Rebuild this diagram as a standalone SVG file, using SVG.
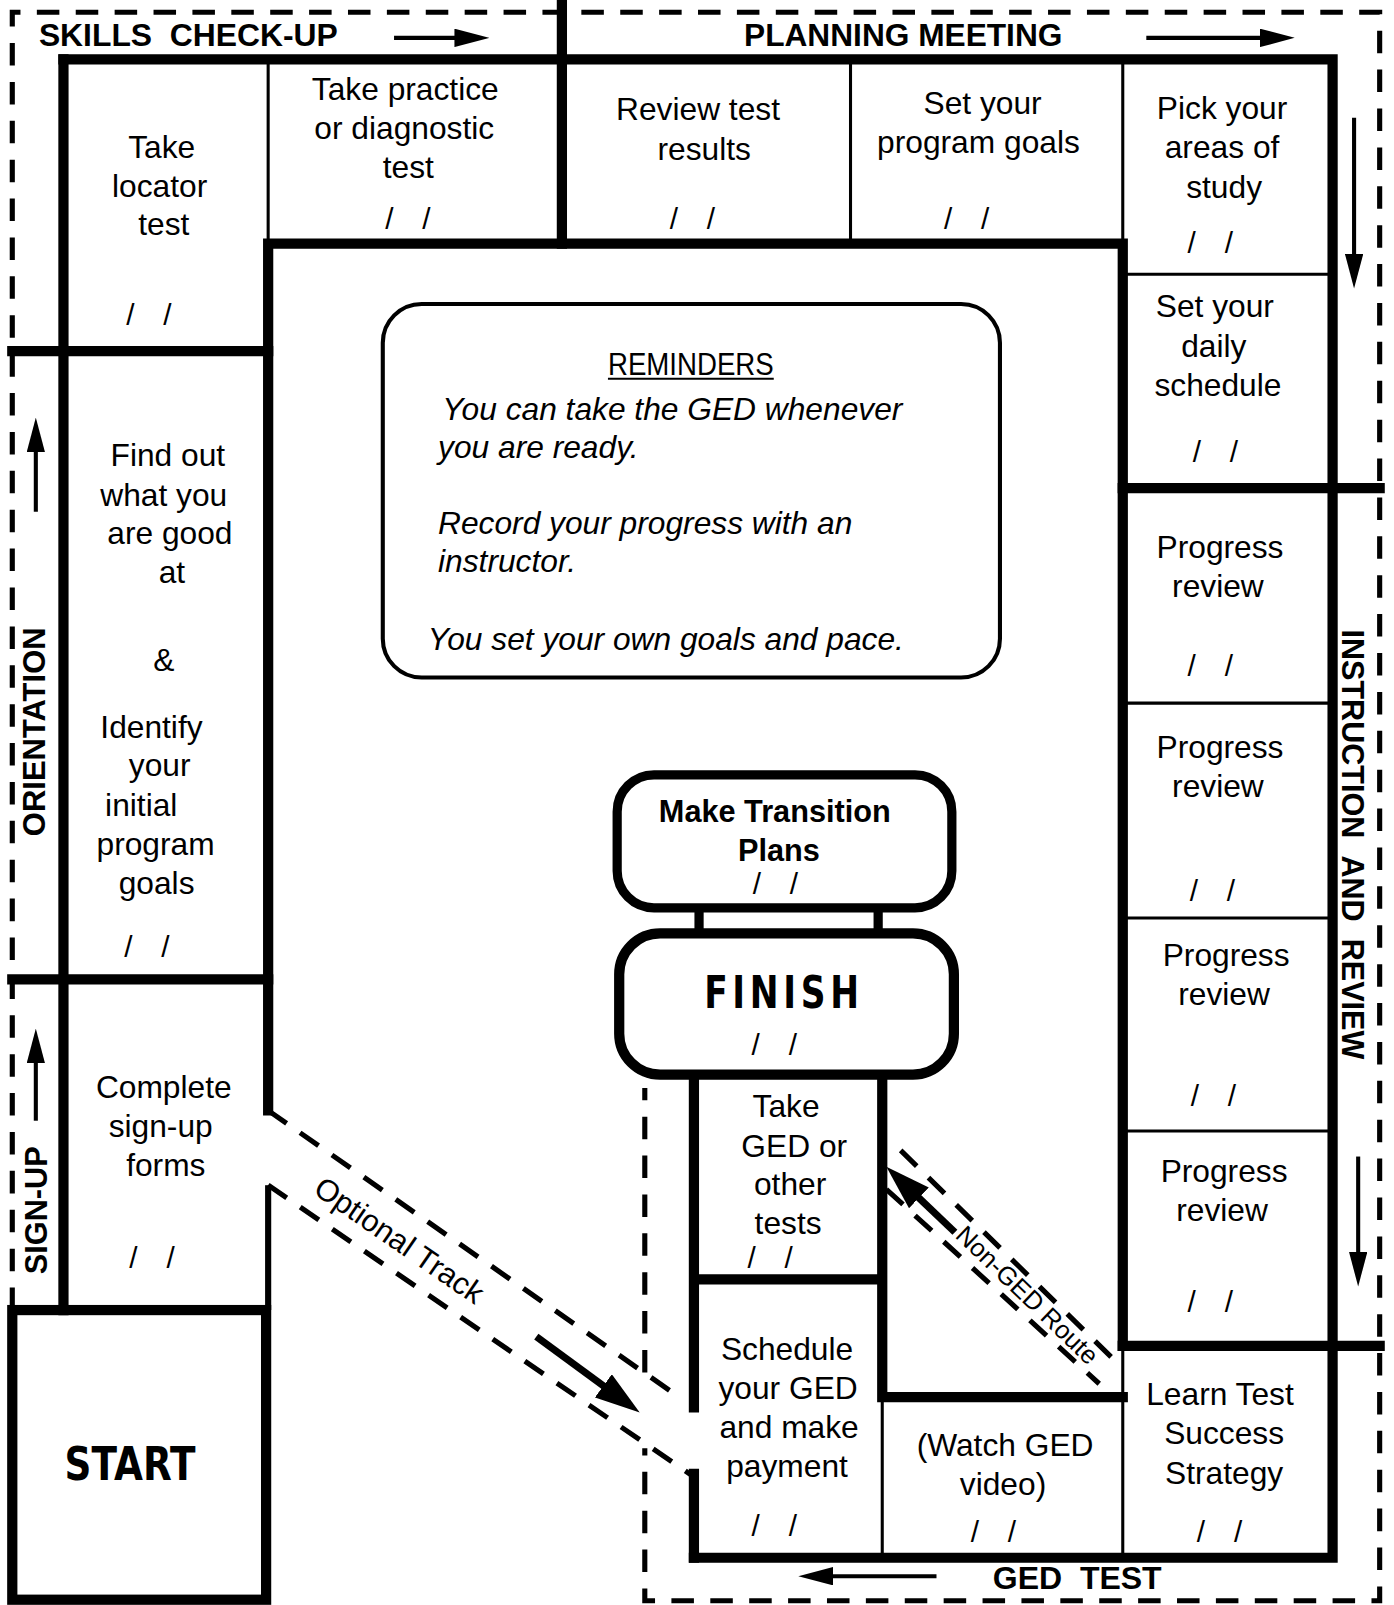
<svg xmlns="http://www.w3.org/2000/svg" width="1394" height="1605" viewBox="0 0 1394 1605">
<style>
.k{fill:none;stroke:#000;stroke-width:10;stroke-linecap:square}
.k6{fill:none;stroke:#000;stroke-width:6}
.n{fill:none;stroke:#000;stroke-width:3}
.ds{fill:none;stroke:#000;stroke-width:5;stroke-dasharray:22 16}
.ar{fill:none;stroke:#000;stroke-width:4}
.ab{fill:none;stroke:#000;stroke-width:7}
.bx{fill:#fff;stroke:#000}
text{font-family:"Liberation Sans",Arial,Helvetica,sans-serif;fill:#000}
.c{font-size:31px;text-anchor:middle}
.dt{font-size:29px;text-anchor:middle;letter-spacing:1px}
.sec{font-size:31px;font-weight:bold}
.rem{font-size:31px;font-style:italic}
.bd{font-weight:bold;text-anchor:middle}
.big{font-family:"DejaVu Sans","Liberation Sans",sans-serif;font-weight:bold;text-anchor:middle}
</style>
<defs>
<marker id="hs" markerUnits="userSpaceOnUse" markerWidth="34" markerHeight="18" viewBox="0 0 34 18" refX="8" refY="9" orient="auto"><path d="M0 0L34 9L0 18z" fill="#000"/></marker>
<marker id="hb" markerUnits="userSpaceOnUse" markerWidth="44" markerHeight="28" viewBox="0 0 44 28" refX="10" refY="14" orient="auto"><path d="M0 0L44 14L0 28z" fill="#000"/></marker>
</defs>
<rect width="1394" height="1605" fill="#fff"/>
<g transform="scale(1.02349)">

<g id="board">
<path class="ds" d="M12 1280V12H1348V1564H630V1415"/>
<path class="ds" d="M630 1341V1063"/>
<path class="k" d="M62 58H1302V1522H678"/>
<path class="k" d="M62 58V1280"/>
<path class="k" d="M549 5V238"/>
<path class="k" d="M262 1085V238H1097V1315"/>
<path class="k" d="M12 343H262M12 957H262"/>
<path class="k6" d="M262 1158V1280"/>
<rect class="k" x="12" y="1280" width="248" height="283"/>
<path class="k" d="M1097 477H1348M1097 1315H1348"/>
<path class="k" d="M678 1050V1375M678 1440V1522M862 1050V1365H1097M678 1250H862"/>
<path class="n" d="M262 58V238M831 58V238M1097 58V238M1097 268H1302M1097 687H1302M1097 897H1302M1097 1105H1302M1097 1315V1522M862 1365V1522"/>
</g>

<g id="connectors">
<path class="ds" d="M262 1085L665 1366"/>
<path class="ds" d="M262 1158L678 1443"/>
<path class="ds" d="M880 1124L1090 1330"/>
<path class="ds" d="M866 1162L1074 1352"/>
<path class="ab" d="M524 1306L597.6 1359.9" marker-end="url(#hb)"/>
<path class="ab" d="M933 1204L890.6 1163.5" marker-end="url(#hb)"/>
<path class="n" d="M683 887V912M858 887V912" style="stroke-width:9"/>
<text transform="translate(390,1212) rotate(34.6)" style="font-size:30px;text-anchor:middle" y="10">Optional Track</text>
<text transform="translate(1004,1265) rotate(44)" style="font-size:25px;text-anchor:middle" y="9">Non-GED Route</text>
</g>

<g id="labels">
<text class="sec" x="38" y="45" textLength="292" lengthAdjust="spacingAndGlyphs">SKILLS&#160;&#160;CHECK-UP</text>
<path class="ar" d="M385 37H452" marker-end="url(#hs)"/>
<text class="sec" x="727" y="45" textLength="311" lengthAdjust="spacingAndGlyphs">PLANNING MEETING</text>
<path class="ar" d="M1120 37H1239" marker-end="url(#hs)"/>
<path class="ar" d="M1323 115V256" marker-end="url(#hs)"/>
<text class="sec" transform="translate(1311,615) rotate(90)" textLength="420" lengthAdjust="spacingAndGlyphs">INSTRUCTION&#160;&#160;AND&#160;&#160;REVIEW</text>
<path class="ar" d="M1327 1130V1231" marker-end="url(#hs)"/>
<text class="sec" x="970" y="1553" textLength="165" lengthAdjust="spacingAndGlyphs">GED&#160;&#160;TEST</text>
<path class="ar" d="M915 1540H806" marker-end="url(#hs)"/>
<text class="sec" transform="translate(44,817) rotate(-90)" textLength="204" lengthAdjust="spacingAndGlyphs">ORIENTATION</text>
<path class="ar" d="M35 500V434" marker-end="url(#hs)"/>
<text class="sec" transform="translate(46,1245) rotate(-90)" textLength="125" lengthAdjust="spacingAndGlyphs">SIGN-UP</text>
<path class="ar" d="M35 1095V1031" marker-end="url(#hs)"/>
</g>

<g id="n-locator">
<text class="c"><tspan x="158" y="154">Take</tspan><tspan x="156" y="192">locator</tspan><tspan x="160" y="230">test</tspan></text>
<text class="dt" x="146" y="318">/&#160;&#160;&#160;/</text>
</g>
<g id="n-practice">
<text class="c"><tspan x="396" y="98">Take practice</tspan><tspan x="395" y="136">or diagnostic</tspan><tspan x="399" y="174">test</tspan></text>
<text class="dt" x="399" y="224">/&#160;&#160;&#160;/</text>
</g>
<g id="n-review">
<text class="c"><tspan x="682" y="117">Review test</tspan><tspan x="688" y="156">results</tspan></text>
<text class="dt" x="677" y="224">/&#160;&#160;&#160;/</text>
</g>
<g id="n-goals">
<text class="c"><tspan x="960" y="111">Set your</tspan><tspan x="956" y="149">program goals</tspan></text>
<text class="dt" x="945" y="224">/&#160;&#160;&#160;/</text>
</g>
<g id="n-pick">
<text class="c"><tspan x="1194" y="116">Pick your</tspan><tspan x="1194" y="154">areas of</tspan><tspan x="1196" y="193">study</tspan></text>
<text class="dt" x="1183" y="247">/&#160;&#160;&#160;/</text>
</g>
<g id="n-daily">
<text class="c"><tspan x="1187" y="310">Set your</tspan><tspan x="1186" y="349">daily</tspan><tspan x="1190" y="387">schedule</tspan></text>
<text class="dt" x="1188" y="451">/&#160;&#160;&#160;/</text>
</g>
<g id="n-pr1">
<text class="c"><tspan x="1192" y="545">Progress</tspan><tspan x="1190" y="583">review</tspan></text>
<text class="dt" x="1183" y="660">/&#160;&#160;&#160;/</text>
</g>
<g id="n-pr2">
<text class="c"><tspan x="1192" y="741">Progress</tspan><tspan x="1190" y="779">review</tspan></text>
<text class="dt" x="1185" y="880">/&#160;&#160;&#160;/</text>
</g>
<g id="n-pr3">
<text class="c"><tspan x="1198" y="944">Progress</tspan><tspan x="1196" y="982">review</tspan></text>
<text class="dt" x="1186" y="1081">/&#160;&#160;&#160;/</text>
</g>
<g id="n-pr4">
<text class="c"><tspan x="1196" y="1155">Progress</tspan><tspan x="1194" y="1193">review</tspan></text>
<text class="dt" x="1183" y="1282">/&#160;&#160;&#160;/</text>
</g>
<g id="n-learn">
<text class="c"><tspan x="1192" y="1373">Learn Test</tspan><tspan x="1196" y="1411">Success</tspan><tspan x="1196" y="1450">Strategy</tspan></text>
<text class="dt" x="1192" y="1507">/&#160;&#160;&#160;/</text>
</g>
<g id="n-watch">
<text class="c"><tspan x="982" y="1423">(Watch GED</tspan><tspan x="980" y="1461">video)</tspan></text>
<text class="dt" x="971" y="1507">/&#160;&#160;&#160;/</text>
</g>
<g id="n-schedule">
<text class="c"><tspan x="769" y="1329">Schedule</tspan><tspan x="770" y="1367">your GED</tspan><tspan x="771" y="1405">and make</tspan><tspan x="769" y="1443">payment</tspan></text>
<text class="dt" x="757" y="1501">/&#160;&#160;&#160;/</text>
</g>
<g id="n-takeged">
<text class="c"><tspan x="768" y="1091">Take</tspan><tspan x="776" y="1130">GED or</tspan><tspan x="772" y="1168">other</tspan><tspan x="770" y="1206">tests</tspan></text>
<text class="dt" x="753" y="1239">/&#160;&#160;&#160;/</text>
</g>
<g id="n-findout">
<text class="c"><tspan x="164" y="455">Find out</tspan><tspan x="160" y="494">what you</tspan><tspan x="166" y="532">are good</tspan><tspan x="168" y="570">at</tspan><tspan x="160" y="656">&amp;</tspan><tspan x="148" y="721">Identify</tspan><tspan x="156" y="758">your</tspan><tspan x="138" y="797">initial</tspan><tspan x="152" y="835">program</tspan><tspan x="153" y="873">goals</tspan></text>
<text class="dt" x="144" y="935">/&#160;&#160;&#160;/</text>
</g>
<g id="n-signup">
<text class="c"><tspan x="160" y="1073">Complete</tspan><tspan x="157" y="1111">sign-up</tspan><tspan x="162" y="1149">forms</tspan></text>
<text class="dt" x="149" y="1239">/&#160;&#160;&#160;/</text>
</g>
<g id="n-start">
<text class="big" x="127" y="1446" style="font-size:46px" textLength="128" lengthAdjust="spacingAndGlyphs">START</text>
</g>
<g id="n-reminders">
<rect class="bx" x="374" y="297" width="603" height="365" rx="38" style="stroke-width:4"/>
<text x="675" y="366" style="font-size:30px;text-anchor:middle" textLength="162" lengthAdjust="spacingAndGlyphs">REMINDERS</text>
<path d="M594 370H756" stroke="#000" stroke-width="2"/>
<text class="rem" x="432" y="410">You can take the GED whenever</text>
<text class="rem" x="428" y="447">you are ready.</text>
<text class="rem" x="428" y="522">Record your progress with an</text>
<text class="rem" x="428" y="559">instructor.</text>
<text class="rem" x="418" y="635">You set your own goals and pace.</text>
</g>
<g id="n-transition">
<rect class="bx" x="603" y="757" width="327" height="130" rx="36" style="stroke-width:9"/>
<text class="bd" style="font-size:30px"><tspan x="757" y="803">Make Transition</tspan><tspan x="761" y="841">Plans</tspan></text>
<text class="dt" x="758" y="873">/&#160;&#160;&#160;/</text>
</g>
<g id="n-finish">
<rect class="bx" x="605" y="912" width="327" height="138" rx="40" style="stroke-width:10"/>
<text class="big" x="766" y="985" style="font-size:44px;letter-spacing:6px" textLength="156" lengthAdjust="spacingAndGlyphs">FINISH</text>
<text class="dt" x="757" y="1031">/&#160;&#160;&#160;/</text>
</g>
</g>
</svg>
